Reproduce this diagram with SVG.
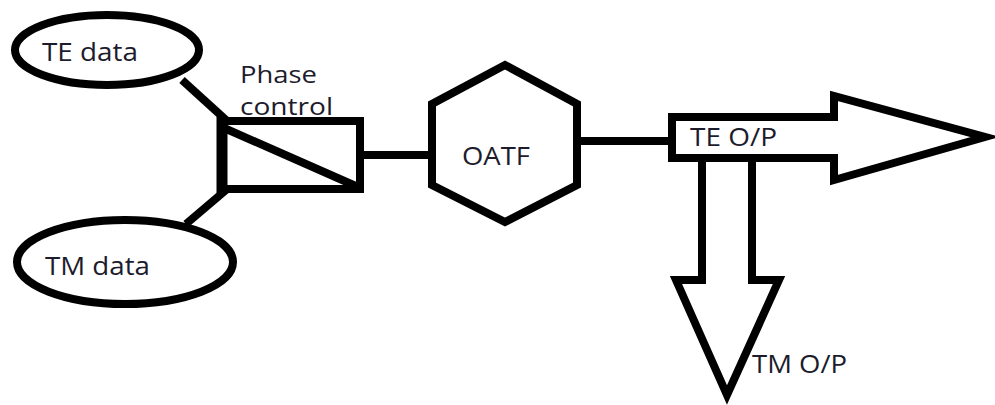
<svg xmlns="http://www.w3.org/2000/svg" width="995" height="405" viewBox="0 0 995 405">
<style>
.s{fill:#fff;stroke:#000;stroke-width:8;stroke-linejoin:miter}
.l{fill:none;stroke:#000;stroke-width:8}
text{font-family:"Open Sans","Liberation Sans",sans-serif;font-size:25px;fill:#1c1c2c}
.sm{font-size:23px}
</style>
<rect width="995" height="405" fill="#fff"/>
<g id="connectors">
<line class="l" x1="182" y1="80" x2="226" y2="120"/>
<line class="l" x1="226" y1="190" x2="186" y2="224"/>
<line class="l" x1="360" y1="155" x2="432" y2="155"/>
<line class="l" x1="577" y1="141" x2="672" y2="141"/>
</g>
<g id="te-data">
<ellipse class="s" cx="107" cy="50" rx="92" ry="35"/>
<text x="42" y="61" textLength="96" lengthAdjust="spacingAndGlyphs">TE data</text>
</g>
<g id="tm-data">
<ellipse class="s" cx="125" cy="262" rx="108" ry="42"/>
<text x="45" y="275" textLength="105" lengthAdjust="spacingAndGlyphs">TM data</text>
</g>
<g id="phase-control">
<rect class="s" x="222" y="121" width="138" height="68"/>
<line x1="222" y1="117" x2="222" y2="193" stroke="#000" stroke-width="11"/>
<line class="l" x1="224" y1="128" x2="358" y2="187"/>
<text class="sm" x="240" y="83" textLength="77" lengthAdjust="spacingAndGlyphs">Phase</text>
<text class="sm" x="240" y="115" textLength="93" lengthAdjust="spacingAndGlyphs">control</text>
</g>
<g id="oatf">
<polygon class="s" points="505,65 577,104 577,185 505,222 432,185 432,104"/>
<text x="462" y="165" textLength="68" lengthAdjust="spacingAndGlyphs">OATF</text>
</g>
<g id="te-op">
<polygon class="s" points="672,117 834,117 834,96 985,137 834,180 834,158 672,158"/>
<text x="690" y="146" textLength="87" lengthAdjust="spacingAndGlyphs">TE O/P</text>
</g>
<g id="tm-op">
<polygon class="s" points="702,158 752,158 752,280 779,280 727,395 676,280 702,280"/>
<text x="752" y="373" textLength="95" lengthAdjust="spacingAndGlyphs">TM O/P</text>
</g>
</svg>
